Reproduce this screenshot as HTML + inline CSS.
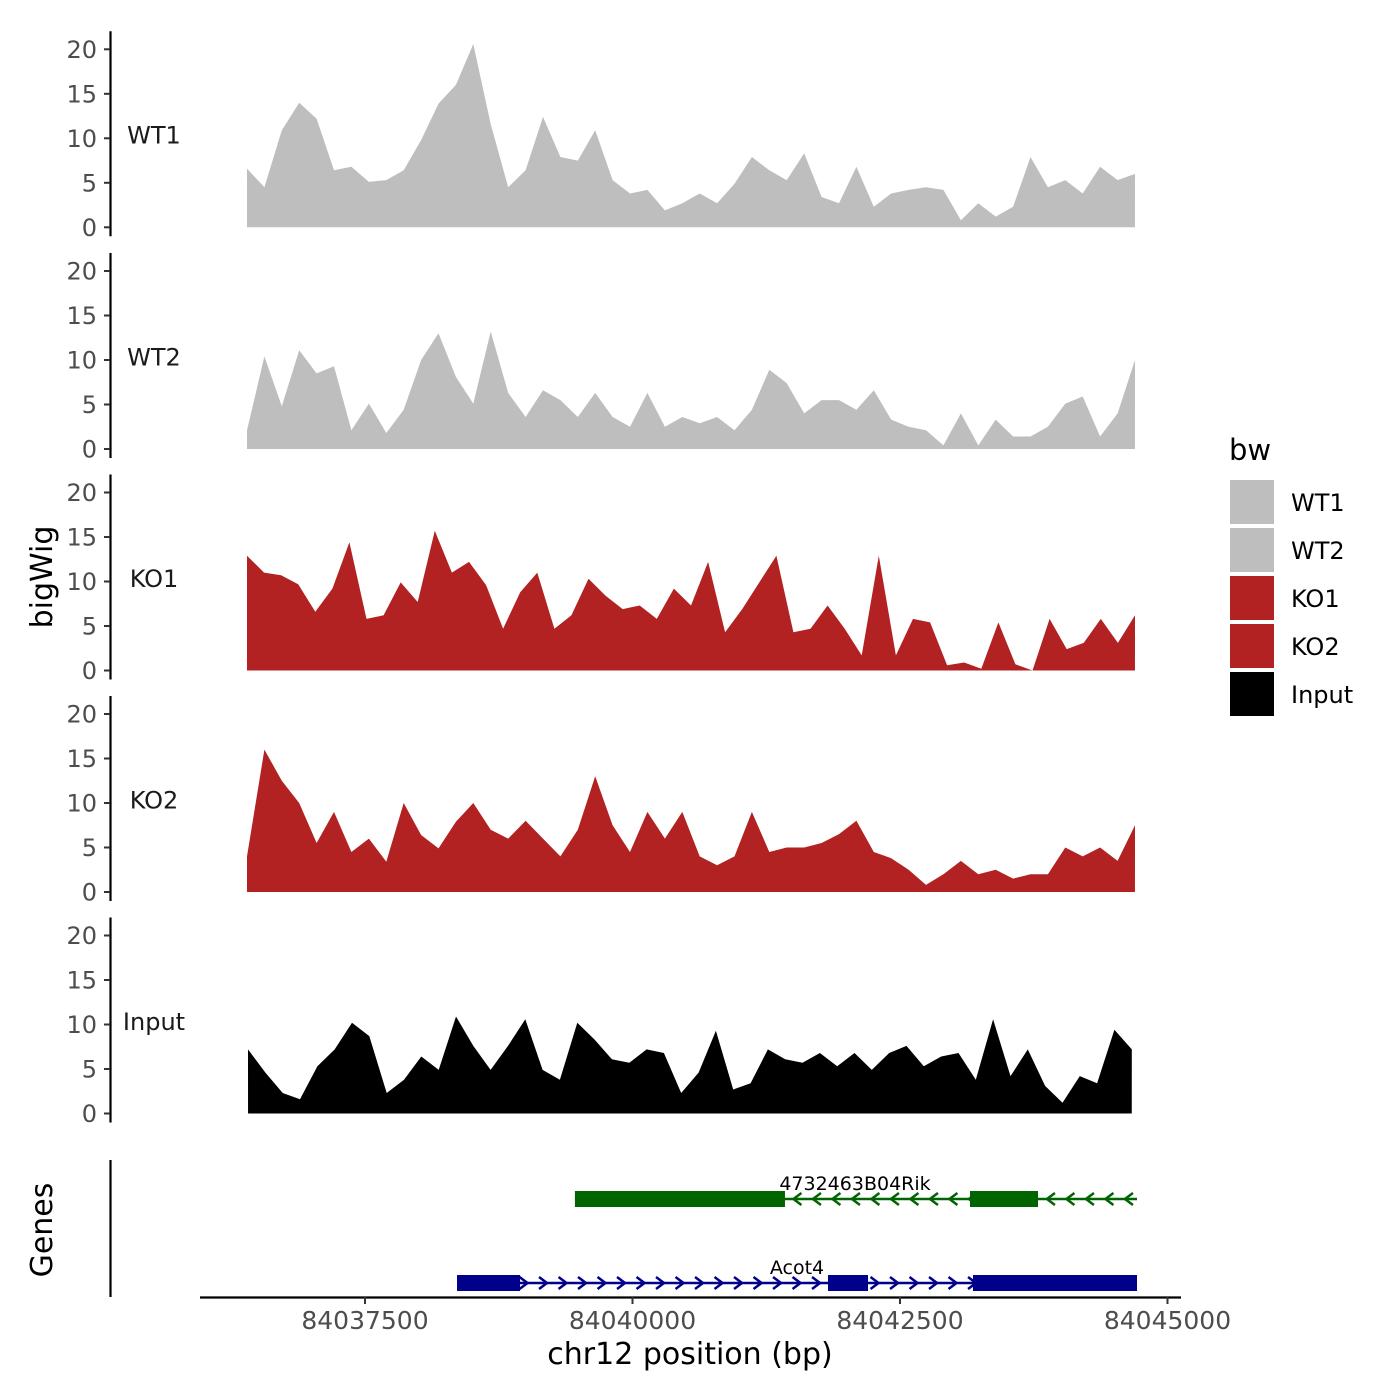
<!DOCTYPE html>
<html><head><meta charset="utf-8"><style>
html,body{margin:0;padding:0;background:#fff;}
svg{display:block;font-family:"DejaVu Sans","Liberation Sans",sans-serif;}
</style></head><body>
<svg id="chart" width="1400" height="1400" viewBox="0 0 1400 1400" xmlns="http://www.w3.org/2000/svg">
<g id="tracks"></g>
<g id="genes"></g>
<g id="axes"></g>
<g id="legend"></g>
</svg>
<script>
const trackNames = ["WT1","WT2","KO1","KO2","Input"];
const trackColors = ["#bebebe","#bebebe","#b22222","#b22222","#000000"];
const yTicks = [0,5,10,15,20];
const xTicks = [84037500,84040000,84042500,84045000];
const xTickLabels = ["84037500","84040000","84042500","84045000"];
const dataStart = 84036397;
const dataEnd = 84044696;
const wt1 = [6.6,4.5,10.9,14,12.2,6.4,6.8,5.1,5.3,6.4,9.8,13.9,16,20.6,11.6,4.5,6.4,12.4,7.9,7.5,10.9,5.3,3.8,4.2,1.9,2.7,3.8,2.7,4.9,7.9,6.4,5.3,8.3,3.4,2.7,6.8,2.3,3.8,4.2,4.5,4.2,0.8,2.7,1.2,2.3,7.9,4.5,5.3,3.8,6.8,5.3,6.0];
const wt2 = [2.1,10.4,4.8,11.1,8.5,9.3,2.1,5.1,1.8,4.4,10,13,8.1,5.1,13.2,6.3,3.6,6.6,5.5,3.6,6.3,3.6,2.5,6.3,2.5,3.6,2.9,3.6,2.1,4.4,8.9,7.4,4,5.5,5.5,4.4,6.6,3.3,2.5,2.1,0.4,4,0.4,3.3,1.4,1.4,2.5,5.1,5.9,1.4,4,10];
const ko1 = [12.9,11,10.7,9.7,6.6,9.2,14.4,5.8,6.2,9.9,7.7,15.7,11,12.2,9.6,4.7,8.8,11,4.7,6.2,10.3,8.4,6.9,7.3,5.8,9.2,7.3,12.2,4.3,6.9,9.9,12.9,4.3,4.7,7.3,4.7,1.7,12.9,1.7,5.8,5.4,0.6,0.9,0.2,5.4,0.7,0,5.8,2.4,3.1,5.8,3.1,6.2];
const ko2 = [4,16,12.5,10,5.5,9,4.5,6,3.4,10,6.4,4.9,7.9,10,7,6,8,6,4,7,13,7.5,4.5,9,6,9,4,3,4,9,4.5,5,5,5.5,6.5,8,4.5,3.8,2.5,0.8,2,3.5,2,2.5,1.5,2,2,5,4,5,3.5,7.5];
const input = [7.2,4.6,2.3,1.6,5.3,7.2,10.2,8.7,2.3,3.8,6.4,4.9,10.9,7.6,4.9,7.6,10.6,4.9,3.8,10.2,8.3,6.1,5.7,7.2,6.8,2.3,4.6,9.3,2.7,3.4,7.2,6.1,5.7,6.8,5.3,6.8,4.9,6.8,7.6,5.3,6.4,6.8,3.8,10.6,4.2,7.2,3.1,1.2,4.2,3.4,9.4,7.2];
const series = [wt1,wt2,ko1,ko2,input];
const geneNames = ["4732463B04Rik","Acot4"];
const geneColors = ["#006400","#00008b"];
const geneStarts = [84039462,84038360];
const geneEnds = [84044715,84044715];
const geneStrand = [-1,1];
const exonStarts = [[84039462,84043154],[84038360,84041827,84043182]];
const exonEnds = [[84041425,84043790],[84038949,84042201,84044715]];

const NS="http://www.w3.org/2000/svg";
function mk(tag,attrs,parent){const e=document.createElementNS(NS,tag);for(const k in attrs)e.setAttribute(k,attrs[k]);parent.appendChild(e);return e;}
const xScale = bp => 365 + (bp-84037500)*267.5/2500;
const zeroY = [227.3,449,670.5,892,1113.5];
const yScale = (v,p) => zeroY[p] - v*8.9;
const tracks=document.getElementById('tracks'), axes=document.getElementById('axes'), genesG=document.getElementById('genes'), legend=document.getElementById('legend');

series.forEach((vals,p)=>{
  const n=vals.length;
  const s = p===4 ? 84036407 : dataStart, e = p===4 ? 84044666 : dataEnd;
  let d="M"+xScale(s)+","+zeroY[p];
  vals.forEach((v,i)=>{const bp=s+(e-s)*i/(n-1);d+=" L"+xScale(bp).toFixed(1)+","+yScale(v,p).toFixed(1);});
  d+=" L"+xScale(e)+","+zeroY[p]+" Z";
  const a=mk('path',{d:d,fill:trackColors[p]},tracks);
  
  
  const lab=mk('text',{x:154,y:yScale(10.3,p)+8,'text-anchor':'middle','font-size':24,fill:'#1a1a1a'},axes);
  lab.textContent=trackNames[p];
  
  
  const ax=mk('line',{x1:110.5,x2:110.5,y1:zeroY[p]-196,y2:zeroY[p]+9,stroke:'#000','stroke-width':2.2},axes);
  
  
  yTicks.forEach(t=>{
    const y=yScale(t,p);
    const tk=mk('line',{x1:104,x2:110,y1:y,y2:y,stroke:'#333','stroke-width':2},axes);
    
    
    const tl=mk('text',{x:97,y:y+8.5,'text-anchor':'end','font-size':24,fill:'#4d4d4d'},axes);
    tl.textContent=t;
    
    
  });
});

// genes
const geneY=[1199,1283];
geneNames.forEach((g,i)=>{
  const y=geneY[i], c=geneColors[i];
  const x1=xScale(geneStarts[i]), x2=xScale(geneEnds[i]);
  const ln=mk('line',{x1:x1,x2:x2,y1:y,y2:y,stroke:c,'stroke-width':2.5},genesG);
  
  
  for(let x=x1+8;x<x2-2;x+=19.5){
    const dx=geneStrand[i]*4;
    const ar=mk('polyline',{points:(x-dx)+","+(y-6)+" "+(x+dx)+","+y+" "+(x-dx)+","+(y+6),fill:'none',stroke:c,'stroke-width':2.5},genesG);
    
    
  }
  exonStarts[i].forEach((s,j)=>{
    const ex=mk('rect',{x:xScale(s),y:y-8,width:xScale(exonEnds[i][j])-xScale(s),height:16,fill:c},genesG);
    
    
  });
  const gl=mk('text',{x:i===0?855:797,y:y-9,'text-anchor':'middle','font-size':19,fill:'#000'},genesG);
  gl.textContent=g;
  
  
});
const gax=mk('line',{x1:110.5,x2:110.5,y1:1160,y2:1297,stroke:'#000','stroke-width':2.2},axes);


const xax=mk('line',{x1:200,x2:1181,y1:1297.5,y2:1297.5,stroke:'#000','stroke-width':2.2},axes);


xTicks.forEach((t,i)=>{
  const x=xScale(t);
  const tk=mk('line',{x1:x,x2:x,y1:1297,y2:1304,stroke:'#333','stroke-width':2},axes);
  
  
  const tl=mk('text',{x:x,y:1329,'text-anchor':'middle','font-size':25,fill:'#4d4d4d'},axes);
  tl.textContent=xTickLabels[i];
  
  
});
const xt=mk('text',{x:690,y:1364,'text-anchor':'middle','font-size':30,fill:'#000'},axes);
xt.textContent="chr12 position (bp)";


const yt=mk('text',{x:0,y:0,transform:'translate(52,577) rotate(-90)','text-anchor':'middle','font-size':30,fill:'#000'},axes);
yt.textContent="bigWig";


const gt=mk('text',{x:0,y:0,transform:'translate(52,1230) rotate(-90)','text-anchor':'middle','font-size':30,fill:'#000'},axes);
gt.textContent="Genes";



// legend
const lt=mk('text',{x:1229,y:460,'font-size':29,fill:'#000'},legend);
lt.textContent="bw";


trackNames.forEach((n,i)=>{
  const y=480+i*48;
  const r=mk('rect',{x:1230,y:y,width:44,height:44,fill:trackColors[i]},legend);
  
  
  const t=mk('text',{x:1291,y:y+31,'font-size':24,fill:'#000'},legend);
  t.textContent=n;
  
  
});
</script>
</body></html>
